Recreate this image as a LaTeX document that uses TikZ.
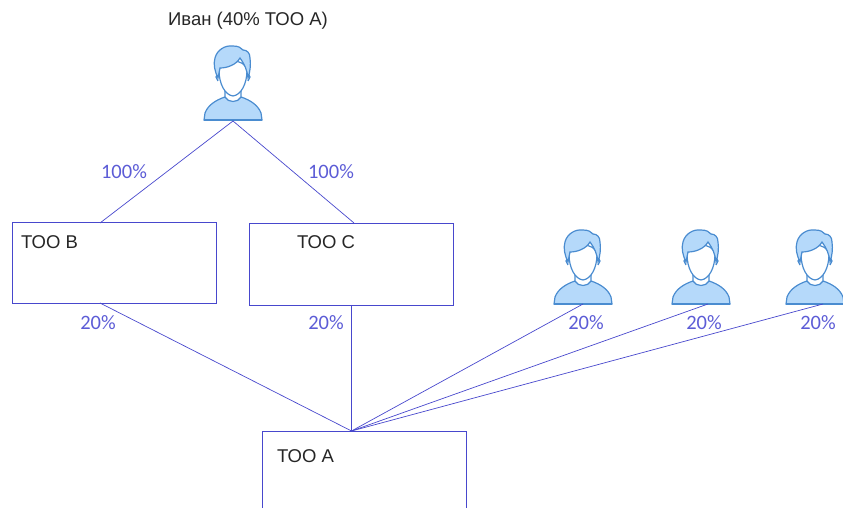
\documentclass[tikz,border=0pt]{standalone}
\usepackage{fontspec}
\setmainfont{Liberation Sans}
\newfontfamily\pctfont{Carlito}
\usepackage{tikz}
\usetikzlibrary{calc}
\tikzset{>=latex}
\definecolor{myblue}{RGB}{72, 72, 205}
\definecolor{mylabel}{RGB}{92, 92, 214}
\definecolor{myhair}{RGB}{181, 217, 250}
\definecolor{myedge}{RGB}{74, 140, 208}
\tikzset{
  box/.style={draw=myblue, line width=0.9pt, inner sep=0pt, anchor=north west},
  conn/.style={draw=myblue, line width=0.7pt},
  pct/.style={text=mylabel, font=\pctfont\fontsize{20.5}{21}\selectfont, inner sep=0pt},
  firm/.style={text=black!85, font=\fontsize{18.5}{19}\selectfont, inner sep=0pt},
  pics/person/.style={code={
    % shoulders
    \draw[fill=myhair, draw=myedge, line width=1.2pt] (-29,0) -- (-28,7) .. controls (-25,15) and (-17,20) .. (-8,23)
      .. controls (-5,18) and (5,18) .. (8,23) .. controls (17,20) and (25,15) .. (28,7) -- (29,0) -- cycle;
    \draw[myedge, line width=2pt] (-29,0) -- (29,0);
    % neck and face
    \draw[fill=white, draw=myedge, line width=1.2pt] (-8,23) -- (-8,32) -- (8,32) -- (8,23) .. controls (5,17) and (-5,17) .. (-8,23) -- cycle;
    \draw[fill=white, draw=myedge, line width=1.2pt] (-14,50) .. controls (-14,36) and (-8,25) .. (0,24)
      .. controls (8,25) and (14,36) .. (14,50) .. controls (12,62) and (-12,62) .. (-14,50) -- cycle;
    % ears
    \draw[myedge, line width=1.2pt] (-15,47) -- (-17,43) -- (-15,39);
    \draw[myedge, line width=1.2pt] (15,47) -- (17,43) -- (15,39);
    % hair
    \draw[fill=myhair, draw=myedge, line width=1.2pt] (-15,42) .. controls (-18,48) and (-20,56) .. (-18,62)
      .. controls (-16,70) and (-8,75) .. (0,74) .. controls (6,74) and (8,72) .. (10,70)
      .. controls (14,70) and (17,67) .. (17,62) .. controls (18,55) and (17,48) .. (15,42)
      .. controls (14,50) and (12,55) .. (7,62) .. controls (3,55) and (-6,52) .. (-13,52) -- cycle;
  }}
}

\begin{document}
\begin{tikzpicture}[x=1pt, y=1pt]
\clip (0,0) rectangle (843,508);

\node[box, minimum width=204pt, minimum height=81pt] (tooB) at (11.5,286) {};
\node[box, minimum width=204pt, minimum height=82pt] (tooC) at (248.5,285) {};
\node[box, minimum width=204pt, minimum height=100pt] (tooA) at (261.5,77) {};
\node[firm, anchor=west] (tooBname) at (21,266) {ТОО В};
\node[firm, anchor=west] (tooCname) at (297,266) {ТОО С};
\node[firm, anchor=west] (tooAname) at (277,52) {ТОО А};

\pic at (233,388) {person};
\foreach \x in {583, 701, 815}{
\pic at (\x,204) {person};
}
\node[firm] (ivanname) at (248,487) {Иван (40\% ТОО А)};

\coordinate (ivan) at (233,387);
\coordinate (inB) at (100,285);
\coordinate (inC) at (354,285);
\coordinate (outB) at (100,205);
\coordinate (outC) at (351.5,203);
\coordinate (inA) at (351.5,77);
\coordinate (manA) at (583,204);
\coordinate (manB) at (708,204);
\coordinate (manC) at (823,204);

\draw[conn] (ivan) -- (inB);
\draw[conn] (ivan) -- (inC);
\foreach \from in {outB, outC, manA, manB, manC}{
\draw[conn] (\from) -- (inA);
}

\node[pct] (pctB) at (124,336) {100\%};
\node[pct] (pctC) at (331,336) {100\%};
\node[pct] (pctD) at (98,185) {20\%};
\node[pct] (pctE) at (326,185) {20\%};
\node[pct] (pctF) at (586,185) {20\%};
\node[pct] (pctG) at (704,185) {20\%};
\node[pct] (pctH) at (818,185) {20\%};
\end{tikzpicture}
\end{document}
